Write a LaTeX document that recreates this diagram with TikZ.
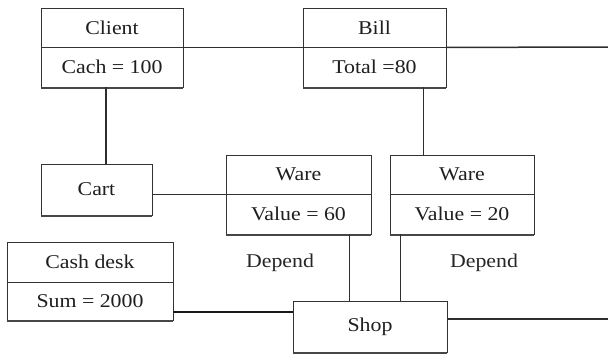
\documentclass[tikz,border=0pt]{standalone}
\usepackage{fontspec}
\setmainfont[FakeStretch=1.12]{Liberation Serif}
\usetikzlibrary{calc}

\tikzset{
  cell/.style={draw=black!80, line width=0.9pt, fill=white, inner sep=0pt,
    font=\fontsize{19.5}{22}\selectfont, text=black!88},
  shade/.style={draw=black!72, line width=2.2pt},
  link/.style={draw=black!82, line width=1.5pt},
  heavylink/.style={draw=black!90, line width=2.4pt},
  note/.style={font=\fontsize{19.5}{22}\selectfont, text=black!85}
}

\begin{document}
\begin{tikzpicture}[x=1pt, y=-1pt]
  \useasboundingbox (0,0) rectangle (608,356);

  % Client
  \node[cell, minimum width=142pt, minimum height=39pt] (clientT) at (112,27.5) {Client};
  \node[cell, minimum width=142pt, minimum height=40pt] (clientB) at (112,67) {Cach = 100};
  % Bill
  \node[cell, minimum width=143pt, minimum height=39pt] (billT) at (374.5,27.5) {Bill};
  \node[cell, minimum width=143pt, minimum height=40pt] (billB) at (374.5,67) {Total =80};
  % Cart
  \node[cell, minimum width=111pt, minimum height=51pt] (cart) at (96.5,189.5) {Cart};
  % Ware (left)
  \node[cell, minimum width=145pt, minimum height=39pt] (wareAT) at (298.5,174.5) {Ware};
  \node[cell, minimum width=145pt, minimum height=40pt] (wareAB) at (298.5,214) {Value = 60};
  % Ware (right)
  \node[cell, minimum width=144pt, minimum height=39pt] (wareBT) at (462,174.5) {Ware};
  \node[cell, minimum width=144pt, minimum height=40pt] (wareBB) at (462,214) {Value = 20};
  % Cash desk
  \node[cell, minimum width=166pt, minimum height=40pt] (deskT) at (90,262) {Cash desk};
  \node[cell, minimum width=166pt, minimum height=38pt] (deskB) at (90,301) {Sum = 2000};
  % Shop
  \node[cell, minimum width=154pt, minimum height=51pt] (shop) at (370,326.5) {Shop};

  % thick lower edges of the boxes
  \foreach \b in {clientB, billB, cart, wareAB, wareBB, deskB, shop}
    \draw[shade] ($(\b.south west)+(0,0.8)$) -- ($(\b.south east)+(0,0.8)$);

  % labels
  \node[note] (dep1) at (280,263) {Depend};
  \node[note] (dep2) at (484,263) {Depend};

  % free ends on the right margin
  \coordinate (rightA) at (608,47);
  \coordinate (rightB) at (608,319);

  % connectors
  \draw[link] (clientT.south east) -- (billT.south west);
  \draw[link] (billT.south east) -- (rightA);

  \path (clientB.south) ++(-6,0) coordinate (c1);
  \draw[link] (c1) -- (c1 |- cart.north);

  \path (billB.south east) ++(-23,0) coordinate (b1);
  \draw[link] (b1) -- (b1 |- wareBT.north);

  \draw[link] (cart.east |- wareAT.south) -- (wareAT.south west);

  \path (wareAB.south east) ++(-22,0) coordinate (w1);
  \draw[link] (w1) -- (w1 |- shop.north);
  \path (wareBB.south west) ++(11,0) coordinate (w2);
  \draw[link] (w2) -- (w2 |- shop.north);

  \draw[heavylink] (deskB.east |- 0,312) -- (shop.west |- 0,312);
  \draw[link] (shop.east |- rightB) -- (rightB);
\end{tikzpicture}
\end{document}
